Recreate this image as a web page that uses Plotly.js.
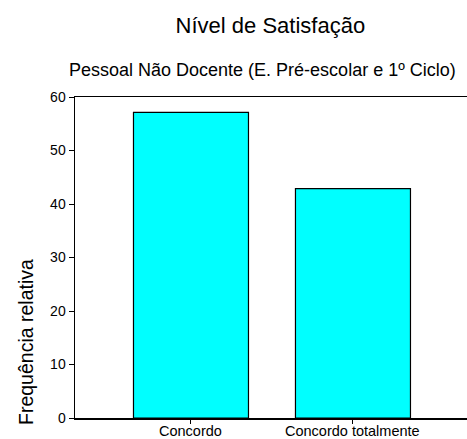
<!DOCTYPE html>
<html>
<head>
<meta charset="utf-8">
<script src="https://cdn.plot.ly/plotly-3.0.1.min.js"></script>
<style>html,body{margin:0;padding:0;background:#fff;}#chart{width:467px;height:439px;}</style>
</head>
<body>
<div id="chart"></div>
<script>
const categories = ["Concordo", "Concordo totalmente"];
const values = [57.14, 42.86];
const yTicks = [0, 10, 20, 30, 40, 50, 60];

const font = "Liberation Sans, Arial, sans-serif";
const xPos = categories.map((c, i) => i);
const trace = {
  type: "bar",
  x: xPos,
  y: values,
  width: 0.71,
  marker: {color: "#00FFFF", line: {color: "#000", width: 1.2}},
  hoverinfo: "none"
};
const catLabels = categories.map((c, i) => ({
  text: c, xref: "x", yref: "paper", x: i, y: -(431 - 418) / 321,
  xanchor: "center", yanchor: "middle", showarrow: false,
  font: {size: 14.5, family: font, color: "#000"}
}));
const layout = {
  width: 467, height: 439,
  margin: {l: 75, r: 0, t: 97, b: 21, pad: 0},
  paper_bgcolor: "#fff", plot_bgcolor: "#fff",
  showlegend: false,
  font: {family: font, color: "#000", size: 12},
  title: {text: "Nível de Satisfação", font: {family: font, size: 22, color: "#000"},
          x: 0.579, xref: "container", xanchor: "center", y: 0.943, yref: "container", yanchor: "middle"},
  xaxis: {
    range: [-0.716, 1.704], tickmode: "array", tickvals: xPos, showticklabels: false,
    showline: true, linecolor: "#000", linewidth: 1.5, mirror: true,
    ticks: "outside", ticklen: 4, tickcolor: "#000", tickwidth: 1,
    showgrid: false, zeroline: false, fixedrange: true
  },
  yaxis: {
    range: [0, 60], tickmode: "array", tickvals: yTicks, ticktext: yTicks.map(String),
    showline: true, linecolor: "#000", linewidth: 1.5,
    ticks: "outside", ticklen: 5, tickcolor: "#000", tickwidth: 1,
    showgrid: false, zeroline: false, tickfont: {size: 14, family: font, color: "#000"}, fixedrange: true
  },
  annotations: [
    {text: "Pessoal Não Docente (E. Pré-escolar e 1º Ciclo)", xref: "paper", yref: "paper",
     x: (262 - 75) / 392, y: (418 - 70) / 321, xanchor: "center", yanchor: "middle", showarrow: false,
     font: {size: 18, family: font, color: "#000"}},
    {text: "Frequência relativa", xref: "paper", yref: "paper", textangle: -90,
     x: (26 - 75) / 392, y: (418 - 342) / 321, xanchor: "center", yanchor: "middle", showarrow: false,
     font: {size: 19.5, family: font, color: "#000"}}
  ].concat(catLabels)
};
Plotly.newPlot("chart", [trace], layout, {displayModeBar: false, staticPlot: true});
</script>
</body>
</html>
